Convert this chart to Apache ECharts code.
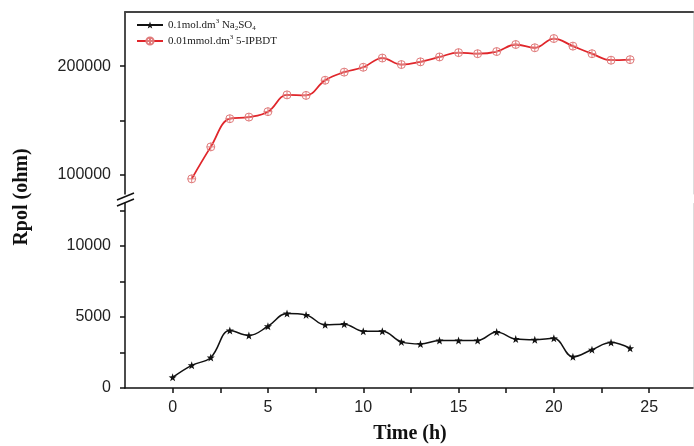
<!DOCTYPE html>
<html>
<head>
<meta charset="utf-8">
<script src="https://cdn.jsdelivr.net/npm/echarts@6/dist/echarts.min.js"></script>
<style>html,body{margin:0;padding:0;background:#fff}#c{width:694px;height:446px}</style>
</head>
<body>
<div id="c"></div>
<script>
const hours = [0,1,2,3,4,5,6,7,8,9,10,11,12,13,14,15,16,17,18,19,20,21,22,23,24];
const seriesBlankName = '0.1mol.dm3 Na2SO4';
const seriesInhName = '0.01mmol.dm3 5-IPBDT';
const blankValues = [750,1600,2150,4050,3700,4350,5250,5150,4450,4500,4000,4000,3250,3100,3350,3350,3350,3950,3450,3400,3500,2200,2700,3200,2800];
const inhHours = [1,2,3,4,5,6,7,8,9,10,11,12,13,14,15,16,17,18,19,20,21,22,23,24];
const inhValues = [96000,125500,151500,153000,158000,173500,173000,187000,194500,199000,207500,201500,204000,208500,212500,211500,213500,220000,217000,225500,218500,211500,205500,206000];
const xTickValues = [0,2.5,5,7.5,10,12.5,15,17.5,20,22.5,25];
const xLabelValues = [0,5,10,15,20,25];
const yLowTickValues = [0,2500,5000,7500,10000,12500];
const yLowLabelValues = [0,5000,10000];
const yHighTickValues = [100000,150000,200000];
const yHighLabelValues = [100000,200000];

const starPath = 'path://M0,-10L2.35,-3.24L9.51,-3.09L3.8,1.24L5.88,8.09L0,4L-5.88,8.09L-3.8,1.24L-9.51,-3.09L-2.35,-3.24Z';
const circPlus = 'path://M0,-10A10,10,0,1,1,0,10A10,10,0,1,1,0,-10ZM0,-10L0,10M-10,0L10,0';

const plain = v => String(v);
const labelStyle = {fontFamily:'Liberation Sans, Arial', fontSize:16, color:'#222', formatter:plain};
const GL = 125, GW = 568;

const chart = echarts.init(document.getElementById('c'));
chart.setOption({
  animation:false,
  backgroundColor:'#fff',
  grid:[
    {left:GL, width:GW, top:203.5, height:184.5},
    {left:GL, width:GW, top:12, height:182}
  ],
  xAxis:[
    {gridIndex:0, type:'value', min:-2.5, max:27.3,
     axisLine:{onZero:false, lineStyle:{color:'#111', width:1.5}},
     axisTick:{customValues:xTickValues, length:5, lineStyle:{color:'#111', width:1.5}},
     axisLabel:Object.assign({customValues:xLabelValues, margin:12}, labelStyle),
     splitLine:{show:false}},
    {gridIndex:1, type:'value', min:-2.5, max:27.3, position:'top',
     axisLine:{onZero:false, lineStyle:{color:'#444', width:2}},
     axisTick:{show:false}, axisLabel:{show:false}, splitLine:{show:false}}
  ],
  yAxis:[
    {gridIndex:0, type:'value', min:0, max:13000,
     axisLine:{show:true, onZero:false, lineStyle:{color:'#111', width:1.5}},
     axisTick:{show:true, customValues:yLowTickValues, length:5, lineStyle:{color:'#111', width:1.5}},
     axisLabel:Object.assign({customValues:yLowLabelValues, margin:14}, labelStyle),
     splitLine:{show:false}},
    {gridIndex:1, type:'value', min:82000, max:250000,
     axisLine:{show:true, onZero:false, lineStyle:{color:'#111', width:1.5}},
     axisTick:{show:true, customValues:yHighTickValues, length:5, lineStyle:{color:'#111', width:1.5}},
     axisLabel:Object.assign({customValues:yHighLabelValues, margin:14}, labelStyle),
     splitLine:{show:false}},
    {gridIndex:0, type:'value', min:0, max:13000, position:'right',
     axisLine:{show:true, onZero:false, lineStyle:{color:'#ddd', width:1}},
     axisTick:{show:false}, axisLabel:{show:false}, splitLine:{show:false}},
    {gridIndex:1, type:'value', min:82000, max:250000, position:'right',
     axisLine:{show:true, onZero:false, lineStyle:{color:'#ddd', width:1}},
     axisTick:{show:false}, axisLabel:{show:false}, splitLine:{show:false}}
  ],
  legend:{
    orient:'vertical', left:131, top:13, itemWidth:26, itemHeight:9, itemGap:2,
    data:[seriesBlankName, seriesInhName],
    formatter:function(n){
      return n === seriesBlankName
        ? '{t|0.1mol.dm}{sup|3}{t| Na}{sub|2}{t|SO}{sub|4}'
        : '{t|0.01mmol.dm}{sup|3}{t| 5-IPBDT}';
    },
    textStyle:{
      fontFamily:'Liberation Serif', fontSize:11, color:'#222',
      rich:{
        t:{fontFamily:'Liberation Serif', fontSize:11, color:'#222', lineHeight:14},
        sup:{fontFamily:'Liberation Serif', fontSize:7, color:'#222', verticalAlign:'top', lineHeight:14},
        sub:{fontFamily:'Liberation Serif', fontSize:7, color:'#222', verticalAlign:'bottom', lineHeight:14}
      }
    }
  },
  series:[
    {name:seriesBlankName, type:'line', xAxisIndex:0, yAxisIndex:0, smooth:0.4,
     data:hours.map((h,i)=>[h, blankValues[i]]),
     symbol:starPath, symbolSize:8,
     lineStyle:{color:'#111', width:1.5},
     itemStyle:{color:'#111', borderWidth:0}},
    {name:seriesInhName, type:'line', xAxisIndex:1, yAxisIndex:1, smooth:0.4,
     data:inhHours.map((h,i)=>[h, inhValues[i]]),
     symbol:circPlus, symbolSize:8,
     lineStyle:{color:'#e0262b', width:1.8},
     itemStyle:{color:'rgba(255,255,255,0)', borderColor:'#e07a7a', borderWidth:1}}
  ],
  graphic:[
    {type:'line', shape:{x1:117, y1:200, x2:134, y2:193}, style:{stroke:'#111', lineWidth:1.5}, z:10},
    {type:'line', shape:{x1:117, y1:206, x2:134, y2:199}, style:{stroke:'#111', lineWidth:1.5}, z:10},
    {type:'text', x:22, y:197, rotation:Math.PI/2,
     style:{text:'Rpol (ohm)', fontFamily:'Liberation Serif', fontWeight:'bold', fontSize:20, fill:'#111', align:'center', verticalAlign:'middle'}},
    {type:'text', x:410, y:434,
     style:{text:'Time (h)', fontFamily:'Liberation Serif', fontWeight:'bold', fontSize:20, fill:'#111', align:'center', verticalAlign:'middle'}}
  ]
});
</script>
</body>
</html>
